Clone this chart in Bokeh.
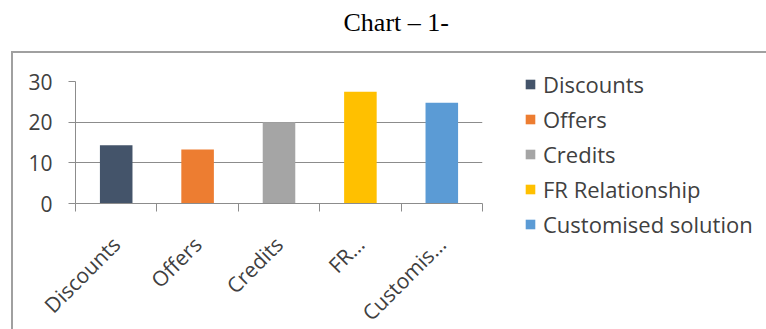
from bokeh.plotting import figure
from bokeh.models import (ColumnDataSource, Range1d, FixedTicker, Legend, LegendItem,
                          InlineStyleSheet)
from bokeh.embed import file_html
from bokeh.resources import INLINE
import math

title_text = "Chart – 1-"
categories = ["Discounts", "Offers", "Credits", "FR Relationship", "Customised solution"]
axis_labels = ["Discounts", "Offers", "Credits", "FR…", "Customis…"]
values = [14.3, 13.3, 20, 27.5, 24.8]
colors = ["#44546A", "#ED7D31", "#A5A5A5", "#FFC000", "#5B9BD5"]
y_ticks = [0, 10, 20, 30]

FONT = "Open Sans"
TXT = "#404040"
AX = "#8c8c8c"

n = len(categories)
xs = [i + 0.5 for i in range(n)]

css = InlineStyleSheet(css="""
:host { position: relative; }
:host::after {
  content: ''; position: absolute; left: 11px; top: 51px; right: 0px; bottom: 0px;
  border-top: 2px solid #a0a0a0; border-left: 2px solid #a0a0a0;
  pointer-events: none; z-index: 10;
}
""")

p = figure(frame_width=407, frame_height=122, output_backend="svg", toolbar_location=None,
           x_range=Range1d(0, n), y_range=Range1d(0, 30),
           min_border_left=75, min_border_right=284, min_border_top=81,
           min_border_bottom=126, stylesheets=[css])

# trailing blank line lifts the title away from the plot area
p.title.text = title_text + "\n "
p.title.align = "left"
p.title.offset = 268
p.title.standoff = 7
p.title.text_line_height = 1.42
p.title.text_font = "Liberation Serif"
p.title.text_font_size = "26px"
p.title.text_font_style = "normal"
p.title.text_color = "#000000"

p.outline_line_color = None
p.background_fill_color = "white"
p.border_fill_color = "white"

renderers = []
for i in range(n):
    src = ColumnDataSource(dict(x=[xs[i]], top=[values[i]]))
    r = p.vbar(x="x", top="top", bottom=0, width=0.4, source=src,
               fill_color=colors[i], line_color=None)
    renderers.append(r)

# x axis
xa = p.xaxis[0]
xa.ticker = FixedTicker(ticks=xs, minor_ticks=list(range(n + 1)))
xa.major_label_overrides = {x: lab for x, lab in zip(xs, axis_labels)}
xa.major_label_orientation = math.pi / 4
xa.major_tick_line_color = None
xa.major_tick_out = 0
xa.major_tick_in = 0
xa.minor_tick_line_color = AX
xa.minor_tick_out = 8
xa.minor_tick_in = 0
xa.minor_tick_line_width = 1
xa.axis_line_color = AX
xa.major_label_text_font = FONT
xa.major_label_text_font_size = "21px"
xa.major_label_text_color = TXT
xa.major_label_standoff = 29

# y axis
ya = p.yaxis[0]
ya.ticker = FixedTicker(ticks=y_ticks)
ya.axis_line_color = AX
ya.major_tick_line_color = AX
ya.major_tick_out = 7
ya.major_tick_in = 0
ya.minor_tick_line_color = None
ya.major_label_text_font = FONT
ya.major_label_text_font_size = "21px"
ya.major_label_text_color = TXT
ya.major_label_standoff = 16

p.xgrid.grid_line_color = None
p.ygrid.grid_line_color = AX
p.ygrid.grid_line_width = 1

items = [LegendItem(label=categories[i], renderers=[renderers[i]]) for i in range(n)]
legend = Legend(items=items, location=(42, -36))
legend.border_line_color = None
legend.background_fill_alpha = 0
legend.label_text_font = FONT
legend.label_text_font_size = "22px"
legend.label_text_color = TXT
legend.glyph_width = 12
legend.glyph_height = 12
legend.label_standoff = 7
legend.spacing = 5
legend.padding = 0
legend.margin = 0
p.add_layout(legend, "right")

open("out.html", "w").write(file_html(p, INLINE))
